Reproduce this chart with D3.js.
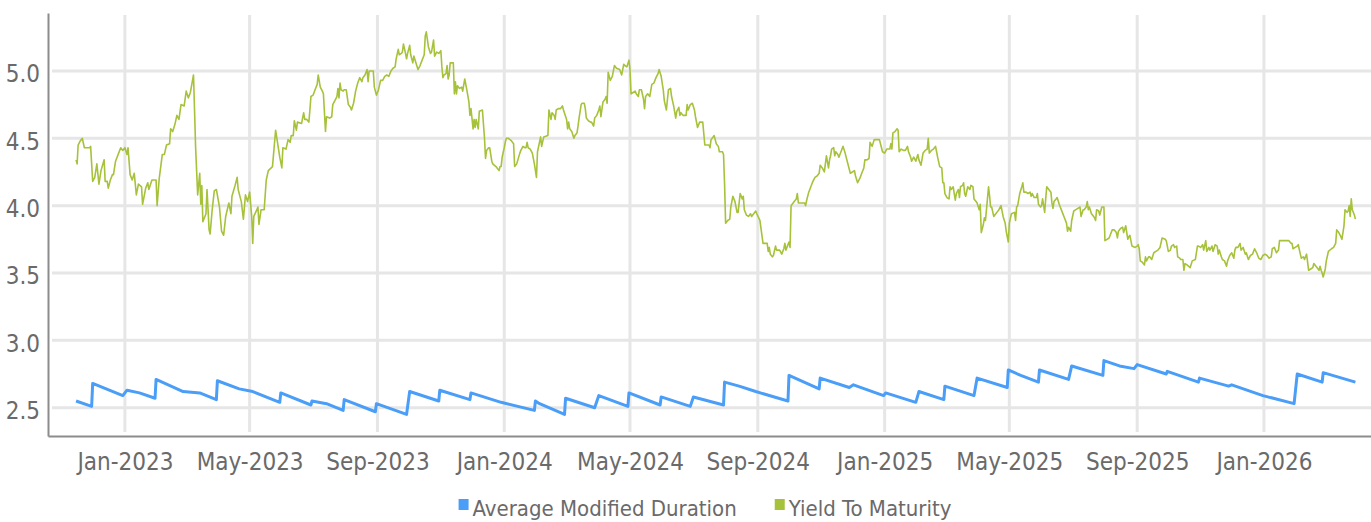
<!DOCTYPE html>
<html>
<head>
<meta charset="utf-8">
<script src="https://cdn.jsdelivr.net/npm/d3@7"></script>
<style>
  body { margin: 0; background: #fff; }
  svg text { font-family: "DejaVu Sans Condensed", "DejaVu Sans", sans-serif; font-stretch: condensed; fill: #666; }
</style>
</head>
<body>
<div id="graph"></div>
<script>
// tick positions and labels
var xTicks = ["2023-01-01", "2023-05-01", "2023-09-01", "2024-01-01", "2024-05-01",
              "2024-09-01", "2025-01-01", "2025-05-01", "2025-09-01", "2026-01-01"];
var yTicks = [2.5, 3.0, 3.5, 4.0, 4.5, 5.0];
var seriesNames = ["Average Modified Duration", "Yield To Maturity"];

// average modified duration (month-end sawtooth)
var duration = [
  ["2022-11-15",2.55],["2022-11-30",2.51],["2022-12-01",2.68],["2022-12-14",2.64],["2022-12-30",2.59],
  ["2023-01-03",2.63],["2023-01-15",2.61],["2023-01-30",2.57],["2023-01-31",2.71],["2023-02-26",2.62],
  ["2023-03-14",2.61],["2023-03-30",2.56],["2023-03-31",2.70],["2023-04-21",2.64],["2023-05-04",2.62],
  ["2023-05-30",2.54],["2023-05-31",2.61],["2023-06-29",2.52],["2023-06-30",2.55],["2023-07-14",2.53],
  ["2023-07-30",2.48],["2023-07-31",2.56],["2023-08-30",2.47],["2023-08-31",2.53],["2023-09-29",2.45],
  ["2023-10-02",2.62],["2023-10-30",2.55],["2023-10-31",2.63],["2023-11-29",2.56],["2023-11-30",2.61],
  ["2023-12-29",2.54],["2024-01-30",2.48],["2024-01-31",2.55],["2024-02-04",2.53],["2024-02-28",2.45],
  ["2024-02-29",2.57],["2024-03-28",2.50],["2024-04-01",2.59],["2024-04-29",2.51],["2024-04-30",2.61],
  ["2024-05-30",2.52],["2024-05-31",2.58],["2024-06-28",2.51],["2024-07-01",2.58],["2024-07-30",2.52],
  ["2024-07-31",2.69],["2024-08-14",2.66],["2024-08-30",2.62],["2024-09-30",2.55],["2024-10-01",2.74],
  ["2024-10-30",2.64],["2024-10-31",2.72],["2024-11-28",2.65],["2024-12-02",2.67],["2024-12-31",2.59],
  ["2025-01-02",2.61],["2025-01-31",2.54],["2025-02-03",2.62],["2025-02-27",2.56],["2025-02-28",2.66],
  ["2025-03-28",2.59],["2025-03-31",2.72],["2025-04-29",2.65],["2025-04-30",2.78],["2025-05-12",2.74],
  ["2025-05-29",2.69],["2025-05-30",2.78],["2025-06-27",2.71],["2025-06-30",2.81],["2025-07-30",2.74],
  ["2025-07-31",2.85],["2025-08-15",2.81],["2025-08-29",2.79],["2025-09-01",2.82],["2025-09-29",2.75],
  ["2025-09-30",2.77],["2025-10-30",2.69],["2025-10-31",2.72],["2025-11-28",2.66],["2025-12-01",2.67],
  ["2025-12-31",2.59],["2026-01-30",2.53],["2026-02-02",2.75],["2026-02-26",2.69],["2026-02-27",2.76],
  ["2026-03-30",2.69]
];

// yield to maturity
var ytm = [
  ["2022-11-15",4.34],["2022-11-16",4.31],["2022-11-17",4.45],["2022-11-19",4.48],["2022-11-21",4.50],
  ["2022-11-23",4.43],["2022-11-25",4.43],["2022-11-28",4.43],["2022-11-29",4.44],["2022-12-01",4.18],
  ["2022-12-03",4.21],["2022-12-05",4.31],["2022-12-07",4.16],["2022-12-09",4.26],["2022-12-12",4.34],
  ["2022-12-13",4.18],["2022-12-15",4.18],["2022-12-16",4.13],["2022-12-18",4.19],["2022-12-20",4.23],
  ["2022-12-21",4.23],["2022-12-23",4.33],["2022-12-27",4.41],["2022-12-28",4.43],["2022-12-30",4.41],
  ["2023-01-01",4.43],["2023-01-03",4.38],["2023-01-04",4.43],["2023-01-06",4.23],["2023-01-08",4.19],
  ["2023-01-10",4.24],["2023-01-12",4.08],["2023-01-14",4.16],["2023-01-17",4.14],["2023-01-18",4.01],
  ["2023-01-21",4.13],["2023-01-23",4.17],["2023-01-24",4.12],["2023-01-27",4.19],["2023-01-31",4.19],
  ["2023-02-01",4.00],["2023-02-03",4.20],["2023-02-06",4.38],["2023-02-08",4.38],["2023-02-10",4.45],
  ["2023-02-13",4.46],["2023-02-14",4.57],["2023-02-16",4.55],["2023-02-18",4.60],["2023-02-20",4.67],
  ["2023-02-22",4.64],["2023-02-24",4.75],["2023-02-27",4.74],["2023-03-01",4.85],["2023-03-03",4.80],
  ["2023-03-05",4.84],["2023-03-08",4.97],["2023-03-09",4.71],["2023-03-10",4.44],["2023-03-12",4.08],
  ["2023-03-14",4.24],["2023-03-15",4.01],["2023-03-16",4.15],["2023-03-17",3.88],["2023-03-20",3.94],
  ["2023-03-21",4.12],["2023-03-23",3.82],["2023-03-24",3.79],["2023-03-26",3.97],["2023-03-28",4.11],
  ["2023-03-30",4.12],["2023-04-02",3.99],["2023-04-04",3.81],["2023-04-06",3.78],["2023-04-08",3.92],
  ["2023-04-11",4.02],["2023-04-13",3.94],["2023-04-14",4.07],["2023-04-17",4.15],["2023-04-19",4.21],
  ["2023-04-20",4.12],["2023-04-23",4.03],["2023-04-25",3.90],["2023-04-27",4.08],["2023-04-29",4.03],
  ["2023-05-01",4.10],["2023-05-03",3.92],["2023-05-04",3.72],["2023-05-05",3.92],["2023-05-08",3.97],
  ["2023-05-09",3.99],["2023-05-10",3.86],["2023-05-12",3.97],["2023-05-15",3.97],["2023-05-17",4.19],
  ["2023-05-19",4.26],["2023-05-23",4.29],["2023-05-26",4.56],["2023-05-28",4.46],["2023-05-30",4.36],
  ["2023-06-01",4.28],["2023-06-02",4.43],["2023-06-05",4.42],["2023-06-07",4.49],["2023-06-09",4.47],
  ["2023-06-10",4.52],["2023-06-12",4.52],["2023-06-13",4.63],["2023-06-15",4.56],["2023-06-16",4.62],
  ["2023-06-20",4.61],["2023-06-22",4.69],["2023-06-23",4.64],["2023-06-25",4.64],["2023-06-27",4.62],
  ["2023-06-28",4.71],["2023-06-29",4.81],["2023-07-01",4.82],["2023-07-03",4.86],["2023-07-05",4.90],
  ["2023-07-06",4.97],["2023-07-08",4.88],["2023-07-10",4.85],["2023-07-11",4.83],["2023-07-13",4.55],
  ["2023-07-14",4.66],["2023-07-17",4.65],["2023-07-19",4.66],["2023-07-20",4.75],["2023-07-22",4.78],
  ["2023-07-24",4.81],["2023-07-25",4.87],["2023-07-26",4.80],["2023-07-27",4.91],["2023-07-28",4.86],
  ["2023-07-30",4.85],["2023-07-31",4.86],["2023-08-02",4.86],["2023-08-04",4.75],["2023-08-06",4.73],
  ["2023-08-07",4.71],["2023-08-09",4.76],["2023-08-11",4.85],["2023-08-13",4.91],["2023-08-15",4.95],
  ["2023-08-17",4.92],["2023-08-18",4.95],["2023-08-20",4.97],["2023-08-22",5.01],["2023-08-23",4.92],
  ["2023-08-24",5.00],["2023-08-28",5.00],["2023-08-29",4.88],["2023-08-31",4.82],["2023-09-02",4.86],
  ["2023-09-04",4.93],["2023-09-06",4.93],["2023-09-08",4.96],["2023-09-10",4.97],["2023-09-12",4.96],
  ["2023-09-14",5.00],["2023-09-16",5.02],["2023-09-18",5.03],["2023-09-19",5.09],["2023-09-21",5.16],
  ["2023-09-22",5.12],["2023-09-24",5.13],["2023-09-25",5.14],["2023-09-26",5.20],["2023-09-28",5.13],
  ["2023-09-29",5.09],["2023-09-30",5.13],["2023-10-02",5.19],["2023-10-03",5.12],["2023-10-05",5.06],
  ["2023-10-06",5.11],["2023-10-08",5.06],["2023-10-10",5.01],["2023-10-12",5.04],["2023-10-14",5.08],
  ["2023-10-16",5.12],["2023-10-17",5.26],["2023-10-18",5.29],["2023-10-20",5.18],["2023-10-22",5.13],
  ["2023-10-23",5.14],["2023-10-25",5.23],["2023-10-26",5.11],["2023-10-28",5.14],["2023-10-30",5.13],
  ["2023-11-01",5.15],["2023-11-02",5.03],["2023-11-03",4.95],["2023-11-04",4.97],["2023-11-06",4.98],
  ["2023-11-07",5.04],["2023-11-08",4.94],["2023-11-09",4.97],["2023-11-10",5.06],["2023-11-13",5.06],
  ["2023-11-14",4.83],["2023-11-15",4.92],["2023-11-16",4.83],["2023-11-17",4.89],["2023-11-19",4.87],
  ["2023-11-21",4.88],["2023-11-22",4.85],["2023-11-24",4.94],["2023-11-26",4.86],["2023-11-28",4.77],
  ["2023-11-29",4.67],["2023-11-30",4.72],["2023-12-02",4.57],["2023-12-03",4.64],["2023-12-04",4.58],
  ["2023-12-05",4.64],["2023-12-07",4.57],["2023-12-08",4.70],["2023-12-11",4.71],["2023-12-13",4.50],
  ["2023-12-14",4.35],["2023-12-15",4.41],["2023-12-17",4.43],["2023-12-18",4.43],["2023-12-20",4.33],
  ["2023-12-21",4.31],["2023-12-24",4.29],["2023-12-27",4.26],["2023-12-28",4.29],["2023-12-29",4.29],
  ["2023-12-30",4.36],["2024-01-01",4.43],["2024-01-02",4.47],["2024-01-03",4.50],["2024-01-05",4.50],
  ["2024-01-08",4.48],["2024-01-10",4.46],["2024-01-11",4.29],["2024-01-13",4.31],["2024-01-16",4.39],
  ["2024-01-17",4.41],["2024-01-19",4.44],["2024-01-21",4.43],["2024-01-22",4.43],["2024-01-23",4.47],
  ["2024-01-24",4.43],["2024-01-26",4.42],["2024-01-28",4.39],["2024-01-30",4.31],["2024-02-01",4.21],
  ["2024-02-02",4.40],["2024-02-05",4.51],["2024-02-06",4.44],["2024-02-08",4.51],["2024-02-12",4.52],
  ["2024-02-13",4.71],["2024-02-15",4.64],["2024-02-16",4.69],["2024-02-18",4.67],["2024-02-19",4.64],
  ["2024-02-20",4.71],["2024-02-22",4.72],["2024-02-24",4.72],["2024-02-26",4.74],["2024-02-27",4.71],
  ["2024-03-01",4.64],["2024-03-02",4.57],["2024-03-03",4.62],["2024-03-04",4.57],["2024-03-06",4.55],
  ["2024-03-08",4.50],["2024-03-09",4.52],["2024-03-11",4.54],["2024-03-12",4.59],["2024-03-13",4.65],
  ["2024-03-15",4.75],["2024-03-16",4.76],["2024-03-18",4.76],["2024-03-19",4.72],["2024-03-20",4.65],
  ["2024-03-22",4.63],["2024-03-24",4.62],["2024-03-25",4.62],["2024-03-27",4.59],["2024-03-28",4.65],
  ["2024-03-30",4.67],["2024-04-01",4.71],["2024-04-02",4.74],["2024-04-03",4.66],["2024-04-05",4.77],
  ["2024-04-07",4.79],["2024-04-08",4.81],["2024-04-09",4.76],["2024-04-10",4.99],["2024-04-12",4.93],
  ["2024-04-14",4.96],["2024-04-16",5.04],["2024-04-18",5.02],["2024-04-21",5.01],["2024-04-23",4.97],
  ["2024-04-25",5.05],["2024-04-26",5.04],["2024-04-28",5.03],["2024-04-30",5.08],["2024-05-01",5.01],
  ["2024-05-02",4.83],["2024-05-04",4.84],["2024-05-06",4.85],["2024-05-07",4.83],["2024-05-09",4.81],
  ["2024-05-10",4.86],["2024-05-12",4.86],["2024-05-14",4.79],["2024-05-15",4.72],["2024-05-16",4.81],
  ["2024-05-18",4.83],["2024-05-20",4.81],["2024-05-22",4.90],["2024-05-24",4.91],["2024-05-26",4.95],
  ["2024-05-28",4.98],["2024-05-29",5.01],["2024-05-31",4.96],["2024-06-02",4.86],["2024-06-03",4.78],
  ["2024-06-05",4.71],["2024-06-07",4.86],["2024-06-09",4.87],["2024-06-10",4.81],["2024-06-12",4.74],
  ["2024-06-14",4.65],["2024-06-15",4.70],["2024-06-17",4.73],["2024-06-18",4.67],["2024-06-19",4.69],
  ["2024-06-21",4.67],["2024-06-24",4.67],["2024-06-25",4.75],["2024-06-26",4.71],["2024-06-28",4.75],
  ["2024-06-30",4.76],["2024-07-02",4.71],["2024-07-03",4.66],["2024-07-05",4.58],["2024-07-07",4.62],
  ["2024-07-10",4.62],["2024-07-12",4.45],["2024-07-16",4.45],["2024-07-17",4.43],["2024-07-18",4.49],
  ["2024-07-20",4.51],["2024-07-21",4.52],["2024-07-23",4.46],["2024-07-25",4.44],["2024-07-26",4.40],
  ["2024-07-29",4.40],["2024-07-30",4.38],["2024-07-31",4.16],["2024-08-01",3.87],["2024-08-03",3.89],
  ["2024-08-05",3.90],["2024-08-06",3.99],["2024-08-08",4.07],["2024-08-10",4.03],["2024-08-12",3.95],
  ["2024-08-13",3.95],["2024-08-15",4.09],["2024-08-17",4.05],["2024-08-18",4.07],["2024-08-19",3.97],
  ["2024-08-21",3.93],["2024-08-23",3.92],["2024-08-25",3.94],["2024-08-26",3.92],["2024-08-28",3.94],
  ["2024-08-30",3.96],["2024-08-31",3.94],["2024-09-03",3.89],["2024-09-06",3.72],["2024-09-10",3.72],
  ["2024-09-11",3.66],["2024-09-12",3.69],["2024-09-13",3.64],["2024-09-15",3.62],["2024-09-16",3.63],
  ["2024-09-18",3.70],["2024-09-19",3.67],["2024-09-22",3.67],["2024-09-24",3.64],["2024-09-26",3.68],
  ["2024-09-27",3.72],["2024-09-28",3.67],["2024-09-29",3.69],["2024-10-01",3.73],["2024-10-02",3.69],
  ["2024-10-03",4.00],["2024-10-06",4.03],["2024-10-08",4.05],["2024-10-09",4.09],["2024-10-10",4.02],
  ["2024-10-14",4.02],["2024-10-16",4.02],["2024-10-17",4.00],["2024-10-18",4.04],["2024-10-20",4.10],
  ["2024-10-23",4.16],["2024-10-24",4.18],["2024-10-26",4.21],["2024-10-28",4.22],["2024-10-30",4.24],
  ["2024-10-31",4.30],["2024-11-02",4.28],["2024-11-04",4.25],["2024-11-06",4.37],["2024-11-08",4.28],
  ["2024-11-09",4.34],["2024-11-10",4.37],["2024-11-11",4.42],["2024-11-13",4.43],["2024-11-14",4.37],
  ["2024-11-15",4.40],["2024-11-17",4.38],["2024-11-18",4.36],["2024-11-19",4.38],["2024-11-21",4.42],
  ["2024-11-22",4.44],["2024-11-24",4.39],["2024-11-26",4.33],["2024-11-29",4.24],["2024-12-01",4.25],
  ["2024-12-03",4.26],["2024-12-04",4.22],["2024-12-06",4.17],["2024-12-08",4.20],["2024-12-10",4.24],
  ["2024-12-12",4.28],["2024-12-13",4.34],["2024-12-15",4.34],["2024-12-17",4.35],["2024-12-18",4.47],
  ["2024-12-20",4.44],["2024-12-22",4.49],["2024-12-25",4.49],["2024-12-27",4.49],["2024-12-29",4.43],
  ["2024-12-30",4.40],["2025-01-01",4.39],["2025-01-03",4.42],["2025-01-06",4.42],["2025-01-07",4.46],
  ["2025-01-08",4.42],["2025-01-09",4.54],["2025-01-11",4.55],["2025-01-13",4.57],["2025-01-14",4.56],
  ["2025-01-15",4.40],["2025-01-17",4.42],["2025-01-19",4.41],["2025-01-21",4.41],["2025-01-23",4.44],
  ["2025-01-24",4.40],["2025-01-26",4.36],["2025-01-27",4.33],["2025-01-29",4.36],["2025-01-31",4.33],
  ["2025-02-02",4.38],["2025-02-03",4.34],["2025-02-05",4.30],["2025-02-07",4.39],["2025-02-09",4.41],
  ["2025-02-11",4.42],["2025-02-12",4.50],["2025-02-13",4.39],["2025-02-15",4.41],["2025-02-17",4.42],
  ["2025-02-19",4.44],["2025-02-20",4.40],["2025-02-21",4.36],["2025-02-23",4.29],["2025-02-25",4.28],
  ["2025-02-26",4.17],["2025-02-27",4.17],["2025-02-28",4.09],["2025-03-02",4.06],["2025-03-04",4.05],
  ["2025-03-05",4.14],["2025-03-06",4.12],["2025-03-08",4.14],["2025-03-09",4.09],["2025-03-10",4.04],
  ["2025-03-11",4.09],["2025-03-13",4.12],["2025-03-14",4.06],["2025-03-15",4.14],["2025-03-17",4.15],
  ["2025-03-18",4.17],["2025-03-19",4.09],["2025-03-20",4.07],["2025-03-22",4.14],["2025-03-24",4.12],
  ["2025-03-25",4.15],["2025-03-27",4.14],["2025-03-28",4.05],["2025-03-30",4.03],["2025-03-31",4.02],
  ["2025-04-02",3.97],["2025-04-03",4.01],["2025-04-04",3.80],["2025-04-06",3.86],["2025-04-07",3.91],
  ["2025-04-08",3.89],["2025-04-09",3.97],["2025-04-11",4.14],["2025-04-12",4.07],["2025-04-13",3.99],
  ["2025-04-14",3.99],["2025-04-16",3.92],["2025-04-18",3.94],["2025-04-19",3.95],["2025-04-21",3.97],
  ["2025-04-23",4.00],["2025-04-25",3.92],["2025-04-27",3.87],["2025-04-28",3.81],["2025-04-30",3.73],
  ["2025-05-01",3.87],["2025-05-03",3.94],["2025-05-06",3.95],["2025-05-07",3.89],["2025-05-08",3.99],
  ["2025-05-09",4.00],["2025-05-11",4.09],["2025-05-13",4.14],["2025-05-14",4.17],["2025-05-15",4.10],
  ["2025-05-17",4.10],["2025-05-19",4.09],["2025-05-21",4.10],["2025-05-22",4.07],["2025-05-23",4.09],
  ["2025-05-25",4.06],["2025-05-27",4.06],["2025-05-28",4.09],["2025-05-29",4.01],["2025-05-31",3.99],
  ["2025-06-01",4.00],["2025-06-02",4.05],["2025-06-04",3.95],["2025-06-05",4.05],["2025-06-06",4.14],
  ["2025-06-08",4.12],["2025-06-10",4.10],["2025-06-11",4.02],["2025-06-12",3.98],["2025-06-13",4.03],
  ["2025-06-15",4.05],["2025-06-16",4.06],["2025-06-18",4.01],["2025-06-19",3.99],["2025-06-21",3.95],
  ["2025-06-23",3.91],["2025-06-25",3.87],["2025-06-26",3.81],["2025-06-27",3.84],["2025-06-29",3.81],
  ["2025-06-30",3.89],["2025-07-02",3.96],["2025-07-04",3.97],["2025-07-06",3.98],["2025-07-08",3.99],
  ["2025-07-09",3.92],["2025-07-11",3.97],["2025-07-12",3.97],["2025-07-14",3.99],["2025-07-15",4.03],
  ["2025-07-16",3.97],["2025-07-17",3.99],["2025-07-19",3.94],["2025-07-20",3.93],["2025-07-22",3.91],
  ["2025-07-23",3.89],["2025-07-24",3.97],["2025-07-26",3.96],["2025-07-27",3.93],["2025-07-29",3.99],
  ["2025-07-30",3.99],["2025-07-31",3.99],["2025-08-01",3.74],["2025-08-03",3.75],["2025-08-05",3.76],
  ["2025-08-06",3.78],["2025-08-08",3.82],["2025-08-10",3.82],["2025-08-12",3.80],["2025-08-13",3.76],
  ["2025-08-14",3.81],["2025-08-16",3.83],["2025-08-18",3.84],["2025-08-19",3.80],["2025-08-21",3.85],
  ["2025-08-23",3.75],["2025-08-24",3.77],["2025-08-25",3.78],["2025-08-27",3.70],["2025-08-30",3.69],
  ["2025-09-01",3.70],["2025-09-02",3.71],["2025-09-03",3.68],["2025-09-04",3.59],["2025-09-06",3.58],
  ["2025-09-08",3.56],["2025-09-09",3.62],["2025-09-10",3.59],["2025-09-12",3.62],["2025-09-13",3.62],
  ["2025-09-15",3.60],["2025-09-17",3.65],["2025-09-19",3.66],["2025-09-21",3.67],["2025-09-23",3.69],
  ["2025-09-25",3.76],["2025-09-28",3.75],["2025-09-29",3.74],["2025-10-01",3.66],["2025-10-03",3.67],
  ["2025-10-04",3.70],["2025-10-06",3.71],["2025-10-07",3.69],["2025-10-09",3.70],["2025-10-10",3.62],
  ["2025-10-12",3.61],["2025-10-13",3.60],["2025-10-15",3.60],["2025-10-16",3.52],["2025-10-17",3.57],
  ["2025-10-19",3.56],["2025-10-22",3.54],["2025-10-24",3.59],["2025-10-27",3.60],["2025-10-29",3.70],
  ["2025-10-30",3.70],["2025-11-01",3.69],["2025-11-03",3.71],["2025-11-04",3.67],["2025-11-06",3.74],
  ["2025-11-07",3.66],["2025-11-09",3.69],["2025-11-10",3.67],["2025-11-12",3.70],["2025-11-13",3.66],
  ["2025-11-15",3.71],["2025-11-17",3.70],["2025-11-18",3.64],["2025-11-19",3.67],["2025-11-21",3.62],
  ["2025-11-22",3.60],["2025-11-24",3.59],["2025-11-26",3.55],["2025-11-27",3.59],["2025-11-29",3.63],
  ["2025-12-01",3.65],["2025-12-03",3.61],["2025-12-04",3.67],["2025-12-05",3.69],["2025-12-07",3.69],
  ["2025-12-09",3.72],["2025-12-10",3.67],["2025-12-12",3.69],["2025-12-14",3.64],["2025-12-15",3.65],
  ["2025-12-17",3.60],["2025-12-19",3.63],["2025-12-21",3.64],["2025-12-23",3.68],["2025-12-25",3.65],
  ["2025-12-27",3.61],["2025-12-29",3.60],["2025-12-31",3.63],["2026-01-02",3.64],["2026-01-04",3.63],
  ["2026-01-06",3.61],["2026-01-08",3.62],["2026-01-09",3.68],["2026-01-11",3.69],["2026-01-13",3.65],
  ["2026-01-15",3.67],["2026-01-16",3.74],["2026-01-18",3.74],["2026-01-20",3.74],["2026-01-22",3.74],
  ["2026-01-25",3.74],["2026-01-27",3.72],["2026-01-28",3.72],["2026-01-29",3.68],["2026-01-31",3.69],
  ["2026-02-02",3.70],["2026-02-03",3.71],["2026-02-05",3.64],["2026-02-06",3.61],["2026-02-08",3.62],
  ["2026-02-09",3.60],["2026-02-11",3.64],["2026-02-12",3.58],["2026-02-13",3.52],["2026-02-15",3.53],
  ["2026-02-17",3.54],["2026-02-18",3.57],["2026-02-20",3.55],["2026-02-21",3.54],["2026-02-23",3.52],
  ["2026-02-24",3.55],["2026-02-25",3.52],["2026-02-26",3.50],["2026-02-27",3.47],["2026-03-01",3.53],
  ["2026-03-02",3.59],["2026-03-04",3.66],["2026-03-07",3.68],["2026-03-09",3.69],["2026-03-11",3.72],
  ["2026-03-12",3.82],["2026-03-14",3.80],["2026-03-16",3.77],["2026-03-17",3.75],["2026-03-19",3.85],
  ["2026-03-20",3.97],["2026-03-22",3.95],["2026-03-23",3.96],["2026-03-24",4.00],["2026-03-25",3.92],
  ["2026-03-26",4.05],["2026-03-27",3.97],["2026-03-29",3.93],["2026-03-30",3.90]
];

var colors = ["#4a9ef7", "#a6c23b"];

var W = 1371, H = 522;
var margin = {top: 13, right: 0, bottom: 86, left: 48},
    width = W - margin.left - margin.right,
    height = H - margin.top - margin.bottom;

var parse = d3.timeParse("%Y-%m-%d");
var fmt = d3.timeFormat("%b-%Y");

var x = d3.scaleTime()
    .domain([parse("2022-10-19"), parse("2026-04-14")])
    .range([0, width]);
var y = d3.scaleLinear()
    .domain([2.29, 5.43])
    .range([height, 0]);

var svg = d3.select("#graph").append("svg")
    .attr("width", W)
    .attr("height", H)
  .append("g")
    .attr("transform", "translate(" + margin.left + "," + margin.top + ")");

// grid
svg.selectAll(".hgrid")
    .data(yTicks)
  .enter().append("line")
    .attr("x1", 4).attr("x2", width)
    .attr("y1", function(d) { return y(d); })
    .attr("y2", function(d) { return y(d); })
    .style("stroke", "#e6e6e6")
    .style("stroke-width", 3);
svg.selectAll(".vgrid")
    .data(xTicks)
  .enter().append("line")
    .attr("x1", function(d) { return x(parse(d)); })
    .attr("x2", function(d) { return x(parse(d)); })
    .attr("y1", 2).attr("y2", height - 4)
    .style("stroke", "#e6e6e6")
    .style("stroke-width", 3);

// axes
var yAxis = svg.append("g")
    .call(d3.axisLeft(y).tickValues(yTicks).tickSize(0).tickPadding(8)
      .tickFormat(d3.format(".1f")));
yAxis.select(".domain").style("stroke", "#8c8c8c").style("stroke-width", 2);
yAxis.selectAll("text")
    .attr("dy", 11)
    .style("font-size", "24px")
    .style("fill", "#6a6a6a");

var xAxis = svg.append("g")
    .attr("transform", "translate(0," + height + ")")
    .call(d3.axisBottom(x).tickValues(xTicks.map(parse)).tickSize(0).tickFormat(fmt));
xAxis.select(".domain").style("stroke", "#8c8c8c").style("stroke-width", 2);
xAxis.selectAll("text")
    .attr("y", 34)
    .attr("dy", 0)
    .style("font-size", "24px")
    .style("fill", "#6a6a6a");

// lines
var line = d3.line()
    .x(function(d) { return x(parse(d[0])); })
    .y(function(d) { return y(d[1]); });

svg.append("path")
    .datum(duration)
    .attr("d", line)
    .style("fill", "none")
    .style("stroke", colors[0])
    .style("stroke-width", 3)
    .style("stroke-linejoin", "round");

svg.append("path")
    .datum(ytm)
    .attr("d", line)
    .style("fill", "none")
    .style("stroke", colors[1])
    .style("stroke-width", 1.6)
    .style("stroke-linejoin", "round");

// legend, laid out from measured text widths and centred
var legend = d3.select("svg").append("g").attr("class", "legend");
var items = seriesNames.map(function(name, i) {
  var g = legend.append("g");
  g.append("rect")
      .attr("x", 0).attr("y", 499)
      .attr("width", 10).attr("height", 11)
      .style("fill", colors[i]);
  var t = g.append("text")
      .attr("x", 14).attr("y", 516)
      .style("font-size", "22px")
      .style("fill", "#6a6a6a")
      .text(name);
  return {g: g, w: 14 + t.node().getComputedTextLength()};
});
var gap = 38;
var total = d3.sum(items, function(d) { return d.w; }) + gap * (items.length - 1);
var cx = 705 - total / 2;
items.forEach(function(d) {
  d.g.attr("transform", "translate(" + cx + ",0)");
  cx += d.w + gap;
});
</script>
</body>
</html>
